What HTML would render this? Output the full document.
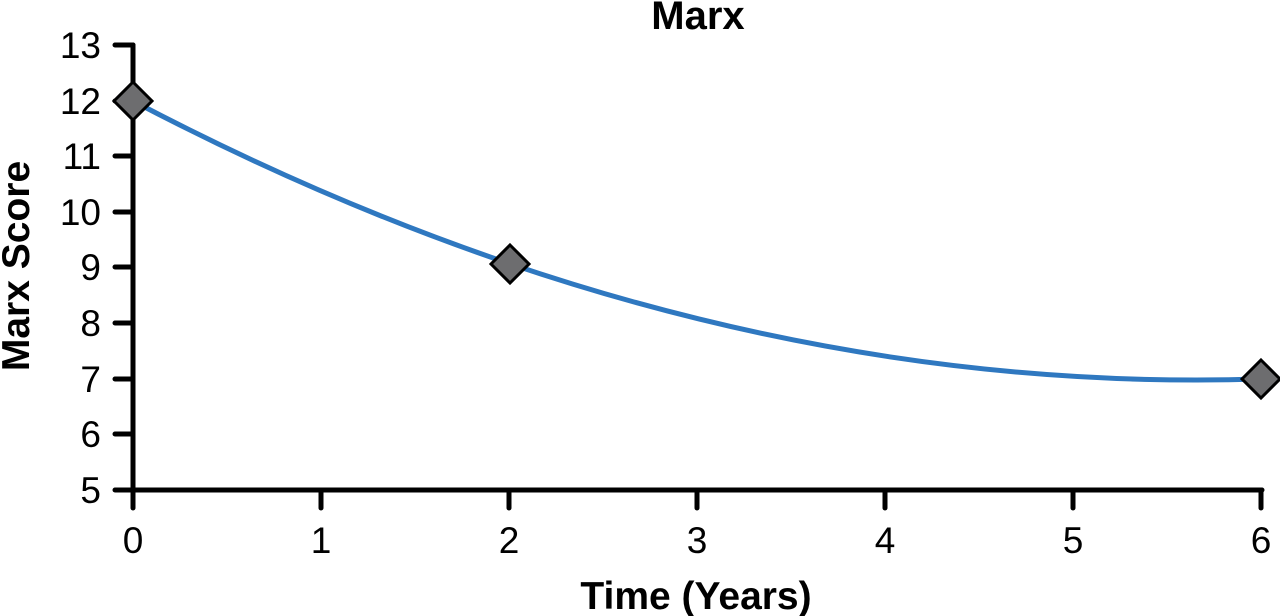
<!DOCTYPE html>
<html><head><meta charset="utf-8"><style>
html,body{margin:0;padding:0;background:#fff;width:1280px;height:616px;overflow:hidden}
text{font-family:"Liberation Sans",Arial,sans-serif;fill:#000}
</style></head><body>
<svg width="1280" height="616" viewBox="0 0 1280 616" xmlns="http://www.w3.org/2000/svg">
<text x="698" y="29" font-size="40" font-weight="bold" text-anchor="middle">Marx</text>
<g stroke="#000" stroke-width="5" stroke-linecap="round" fill="none">
<line x1="133" y1="45" x2="133" y2="508"/>
<line x1="115" y1="490" x2="1262" y2="490"/>
<line x1="115" y1="45" x2="133" y2="45"/>
<line x1="115" y1="101" x2="133" y2="101"/>
<line x1="115" y1="156" x2="133" y2="156"/>
<line x1="115" y1="212" x2="133" y2="212"/>
<line x1="115" y1="267" x2="133" y2="267"/>
<line x1="115" y1="323" x2="133" y2="323"/>
<line x1="115" y1="379" x2="133" y2="379"/>
<line x1="115" y1="434" x2="133" y2="434"/>
<line x1="321" y1="490" x2="321" y2="508"/>
<line x1="509" y1="490" x2="509" y2="508"/>
<line x1="697" y1="490" x2="697" y2="508"/>
<line x1="885" y1="490" x2="885" y2="508"/>
<line x1="1073" y1="490" x2="1073" y2="508"/>
<line x1="1261" y1="490" x2="1261" y2="508"/>
</g>
<g font-size="37" text-anchor="end">
<text x="101" y="58">13</text><text x="101" y="114">12</text><text x="101" y="169">11</text>
<text x="101" y="225">10</text><text x="101" y="280">9</text><text x="101" y="336">8</text>
<text x="101" y="392">7</text><text x="101" y="447">6</text><text x="101" y="503">5</text>
</g>
<g font-size="37" text-anchor="middle">
<text x="133" y="553">0</text><text x="321" y="553">1</text><text x="509" y="553">2</text>
<text x="697" y="553">3</text><text x="885" y="553">4</text><text x="1073" y="553">5</text>
<text x="1261" y="553">6</text>
</g>
<text x="696" y="609" font-size="39" font-weight="bold" text-anchor="middle">Time (Years)</text>
<text transform="translate(29,266) rotate(-90)" font-size="39" font-weight="bold" text-anchor="middle">Marx Score</text>
<path d="M133,101 Q697,397 1261,379" stroke="#2f78c0" stroke-width="5" fill="none"/>
<g fill="#6d6d6f" stroke="#000" stroke-width="3">
<polygon points="133,82 152,101 133,120 114,101"/>
<polygon points="510,245 529,264 510,283 491,264"/>
<polygon points="1261,360 1280,379 1261,398 1242,379"/>
</g>
</svg>
</body></html>
